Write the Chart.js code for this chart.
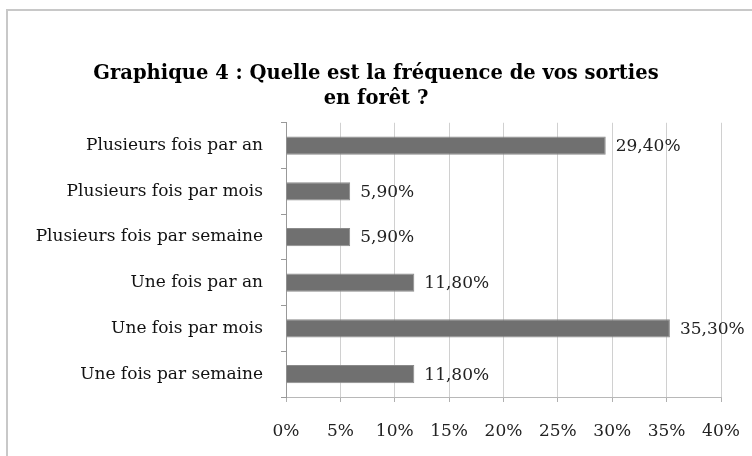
<!DOCTYPE html>
<html>
<head>
<meta charset="utf-8">
<script src="https://cdn.jsdelivr.net/npm/chart.js@4.4.1/dist/chart.umd.min.js"></script>
<style>
  html, body { margin: 0; padding: 0; background: #fff; }
  #wrap { width: 752px; height: 456px; position: relative; }
</style>
</head>
<body>
<div id="wrap"><canvas id="chart" width="752" height="456"></canvas></div>
<script>
const categories = [
  "Plusieurs fois par an",
  "Plusieurs fois par mois",
  "Plusieurs fois par semaine",
  "Une fois par an",
  "Une fois par mois",
  "Une fois par semaine"
];
const percentages = [29.4, 5.9, 5.9, 11.8, 35.3, 11.8];
const valueLabels = ["29,40%", "5,90%", "5,90%", "11,80%", "35,30%", "11,80%"];
const titleLines = ["Graphique 4 : Quelle est la fréquence de vos sorties", "en forêt ?"];

const serif = "'DejaVu Serif', 'Liberation Serif', serif";

// frame round the chart (only top and left edges show in the picture)
const framePlugin = {
  id: "frame",
  beforeDraw(chart) {
    const ctx = chart.ctx;
    ctx.save();
    ctx.strokeStyle = "#c8c8c8";
    ctx.lineWidth = 2;
    ctx.beginPath();
    ctx.moveTo(7, 456);
    ctx.lineTo(7, 10);
    ctx.lineTo(752, 10);
    ctx.stroke();
    ctx.restore();
  }
};

// value labels at the end of each bar
const valueLabelPlugin = {
  id: "valueLabels",
  afterDatasetsDraw(chart) {
    const ctx = chart.ctx;
    const meta = chart.getDatasetMeta(0);
    ctx.save();
    ctx.font = "17px " + serif;
    ctx.fillStyle = "#222";
    ctx.textAlign = "left";
    ctx.textBaseline = "middle";
    meta.data.forEach((bar, i) => {
      ctx.fillText(valueLabels[i], bar.x + 10, bar.y + 1);
    });
    ctx.restore();
  }
};

new Chart(document.getElementById("chart"), {
  type: "bar",
  data: {
    labels: categories,
    datasets: [{
      data: percentages,
      backgroundColor: "#707070",
      borderColor: "#8a8a8a",
      borderWidth: 1,
      barPercentage: 0.4,
      categoryPercentage: 1
    }]
  },
  options: {
    indexAxis: "y",
    responsive: false,
    animation: false,
    layout: { padding: { top: 0, left: 0, right: 0, bottom: 6 } },
    plugins: {
      legend: { display: false },
      tooltip: { enabled: false },
      title: {
        display: true,
        text: titleLines,
        color: "#000",
        font: { family: serif, size: 19.5, weight: "bold", lineHeight: 1.25 },
        padding: { top: 62, bottom: 12 }
      }
    },
    scales: {
      x: {
        min: 0,
        max: 40,
        ticks: {
          stepSize: 5,
          color: "#222",
          padding: 19,
          font: { family: serif, size: 17 },
          callback: (v) => v + "%"
        },
        grid: { color: "#d0d0d0", tickLength: 5, tickColor: "#b0b0b0" },
        border: { color: "#b8b8b8" },
        afterFit: (s) => {
          // keep the plot right edge where the reference has it
          s.height = 53;
          s.paddingLeft = 0;
          s.paddingRight = 31;
        }
      },
      y: {
        ticks: {
          color: "#111",
          padding: 18,
          font: { family: serif, size: 17 }
        },
        grid: { drawOnChartArea: false, tickLength: 5, color: "#999" },
        border: { color: "#999" },
        afterFit: (s) => { s.width = 286; }
      }
    }
  },
  plugins: [framePlugin, valueLabelPlugin]
});
</script>
</body>
</html>
